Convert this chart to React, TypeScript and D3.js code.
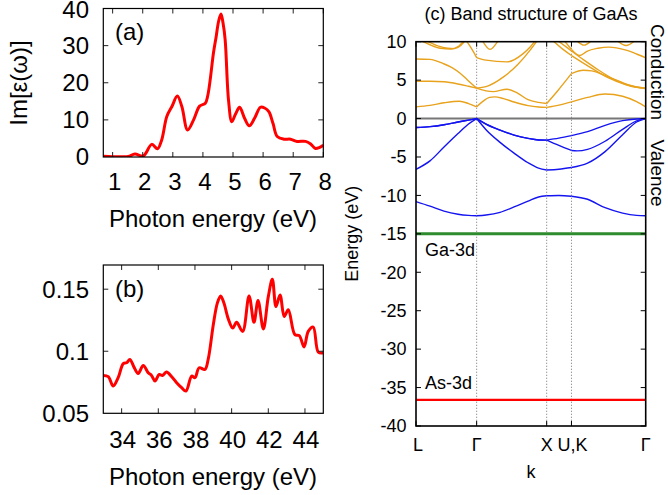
import React from "react";
import * as d3 from "d3";

// ---------- Panel (a): Im[eps] vs photon energy (eV) ----------
const aEnergy = [0.69, 1.0, 1.3, 1.52, 1.74, 2.02, 2.3, 2.49, 2.63, 2.8, 2.97, 3.15, 3.3, 3.49, 3.69, 3.89, 4.08, 4.16, 4.24, 4.35, 4.44, 4.52, 4.6, 4.67, 4.74, 4.85, 4.96, 5.08, 5.22, 5.38, 5.54, 5.72, 5.91, 6.05, 6.19, 6.33, 6.47, 6.69, 6.91, 7.13, 7.41, 7.58, 7.74, 7.88, 8.0];
const aEps = [0.2, 0.1, 0.1, 0.15, 0.8, 0.3, 3.4, 2.2, 4.6, 10.9, 13.6, 16.4, 13.6, 7.3, 10.0, 13.7, 14.5, 16.5, 20.7, 28.0, 32.4, 36.5, 38.5, 36.0, 31.5, 15.4, 9.5, 11.5, 13.4, 10.5, 8.4, 10.5, 13.4, 13.2, 12.2, 9.0, 5.5, 4.8, 4.8, 4.2, 4.2, 3.5, 2.3, 2.6, 3.2];
const aXTicks = [1, 2, 3, 4, 5, 6, 7, 8];
const aYTicks = [0, 10, 20, 30, 40];

// ---------- Panel (b) ----------
const bEnergy = [33.0, 33.27, 33.54, 33.81, 34.09, 34.27, 34.45, 34.68, 34.9, 35.18, 35.45, 35.63, 35.82, 36.05, 36.23, 36.45, 36.73, 37.0, 37.27, 37.51, 37.82, 38.0, 38.23, 38.54, 38.72, 39.0, 39.22, 39.4, 39.58, 39.82, 40.06, 40.27, 40.6, 40.95, 41.22, 41.44, 41.73, 42.0, 42.22, 42.42, 42.64, 42.87, 43.09, 43.45, 43.69, 43.95, 44.18, 44.45, 44.73, 45.0];
const bEps = [0.0805, 0.0795, 0.072, 0.0787, 0.09, 0.0907, 0.0934, 0.087, 0.082, 0.0885, 0.0827, 0.0805, 0.076, 0.0813, 0.0805, 0.0832, 0.0795, 0.0747, 0.0707, 0.068, 0.08, 0.0787, 0.0867, 0.0853, 0.0934, 0.1214, 0.1388, 0.1446, 0.1388, 0.126, 0.1187, 0.1233, 0.116, 0.1446, 0.1233, 0.1409, 0.118, 0.144, 0.158, 0.136, 0.1454, 0.128, 0.1334, 0.1134, 0.1126, 0.1035, 0.116, 0.1195, 0.0992, 0.0987];
const bXTicks = [34, 36, 38, 40, 42, 44];
const bYTicks = [0.05, 0.1, 0.15];
const bYTickLabels = ["0.05", "0.1", "0.15"];

// ---------- Panel (c): band structure ----------
const kPoints = [0, 0.866, 1.866, 2.22, 3.28];
const kLabels = ["L", "Γ", "X", "U,K", "Γ"];
const cYTicks = [10, 5, 0, -5, -10, -15, -20, -25, -30, -35, -40];
const ga3dEnergy = -15.0;
const as3dEnergy = -36.6;

const valence1: [number, number][] = [[0, -1.17], [0.2, -1.05], [0.4, -0.8], [0.6, -0.45], [0.75, -0.2], [0.866, 0], [1.0, -0.72], [1.2, -1.5], [1.4, -2.15], [1.6, -2.58], [1.75, -2.78], [1.866, -2.8], [2.04, -2.55], [2.22, -2.22], [2.45, -1.7], [2.7, -0.88], [2.95, -0.27], [3.15, -0.05], [3.28, 0]];
const valence2: [number, number][] = [[0, -1.17], [0.2, -1.05], [0.4, -0.8], [0.6, -0.45], [0.75, -0.2], [0.866, 0], [1.0, -0.72], [1.2, -1.5], [1.4, -2.15], [1.6, -2.58], [1.75, -2.78], [1.866, -2.8], [2.04, -3.5], [2.22, -4.15], [2.3, -4.2], [2.45, -4.0], [2.7, -2.95], [2.95, -1.4], [3.15, -0.3], [3.28, 0]];
const valence3: [number, number][] = [[0, -6.6], [0.2, -5.5], [0.4, -3.7], [0.6, -1.95], [0.75, -0.7], [0.866, 0], [1.0, -1.45], [1.2, -3.1], [1.4, -4.5], [1.6, -5.75], [1.75, -6.45], [1.866, -6.7], [2.04, -6.6], [2.22, -6.37], [2.45, -5.8], [2.7, -4.3], [2.95, -2.1], [3.15, -0.45], [3.28, 0]];
const valence4: [number, number][] = [[0, -10.8], [0.2, -11.4], [0.4, -12.05], [0.6, -12.45], [0.75, -12.6], [0.866, -12.65], [1.0, -12.55], [1.2, -12.2], [1.4, -11.5], [1.6, -10.75], [1.75, -10.2], [1.866, -10.05], [2.04, -10.02], [2.22, -10.1], [2.45, -10.5], [2.7, -11.6], [2.95, -12.3], [3.15, -12.6], [3.28, -12.65]];
const valenceBands = [valence1, valence2, valence3, valence4];

const cond1: [number, number][] = [[0, 1.52], [0.2, 1.72], [0.4, 2.05], [0.62, 2.25], [0.75, 1.95], [0.866, 1.52], [0.95, 2.2], [1.05, 2.75], [1.12, 2.82], [1.25, 2.6], [1.4, 2.15], [1.6, 1.68], [1.75, 1.5], [1.866, 1.45], [2.04, 1.75], [2.22, 2.17], [2.45, 2.75], [2.7, 3.2], [2.95, 2.9], [3.15, 2.2], [3.28, 1.52]];
const cond2: [number, number][] = [[0, 4.85], [0.2, 4.85], [0.4, 4.78], [0.6, 4.5], [0.75, 4.2], [0.866, 3.95], [1.0, 3.6], [1.1, 3.5], [1.3, 3.82], [1.45, 3.3], [1.6, 2.45], [1.75, 2.1], [1.866, 1.95], [2.03, 3.69], [2.22, 5.85], [2.39, 6.29], [2.51, 6.2], [2.746, 5.42], [2.985, 4.55], [3.15, 4.1], [3.28, 3.9]];
const cond3: [number, number][] = [[0, 7.75], [0.2, 7.7], [0.39, 7.15], [0.52, 6.6], [0.63, 5.9], [0.75, 4.9], [0.866, 3.95], [1.0, 4.15], [1.25, 5.42], [1.45, 7.0], [1.63, 8.9], [1.75, 10.4]];
const cond4: [number, number][] = [[1.96, 10.1], [2.1, 9.0], [2.22, 8.2], [2.5, 6.6], [2.75, 5.3], [3.0, 4.4], [3.15, 4.05], [3.28, 3.95]];
const cond5: [number, number][] = [[2.03, 10.1], [2.22, 8.8], [2.4, 7.6], [2.6, 6.35], [2.85, 5.0], [3.05, 4.3], [3.28, 3.95]];
const cond6: [number, number][] = [[0.72, 10.1], [0.8, 9.0], [0.866, 7.93], [1.0, 7.6], [1.3, 7.37], [1.53, 8.45], [1.63, 9.3], [1.7, 10.1]];
const cond7: [number, number][] = [[0.95, 10.1], [1.057, 9.0], [1.17, 10.1]];
const cond8: [number, number][] = [[0.08, 10.1], [0.2, 9.6], [0.35, 9.15], [0.5, 9.05], [0.6, 9.35], [0.68, 10.1]];
const cond9: [number, number][] = [[0.15, 10.1], [0.3, 9.5], [0.45, 9.15], [0.55, 9.1], [0.64, 9.5], [0.7, 10.1]];
const cond10: [number, number][] = [[2.12, 10.1], [2.22, 9.0], [2.34, 8.2], [2.44, 8.75], [2.6, 9.15], [2.75, 9.3], [3.0, 8.9], [3.15, 8.4], [3.28, 7.9]];
const cond11: [number, number][] = [[2.3, 10.1], [2.4, 9.55], [2.5, 10.1]];
const cond12: [number, number][] = [[2.88, 10.1], [3.0, 9.5], [3.12, 10.1]];
const conductionBands = [cond1, cond2, cond3, cond4, cond5, cond6, cond7, cond8, cond9, cond10, cond11, cond12];

const FONT = "'Liberation Sans', Arial, Helvetica, sans-serif";
const FS_AB = 24;
const FS_C = 18;

function FrameTicks({ x, y, xt, yt, len }: any) {
  const [x0, x1] = x.range();
  const [y0, y1] = y.range();
  const out: any[] = [];
  xt.forEach((t: number, i: number) => {
    const px = x(t);
    out.push(<line key={"xb" + i} x1={px} x2={px} y1={y0} y2={y0 - len} stroke="#222" strokeWidth={1} />);
    out.push(<line key={"xt" + i} x1={px} x2={px} y1={y1} y2={y1 + len} stroke="#222" strokeWidth={1} />);
  });
  yt.forEach((t: number, i: number) => {
    const py = y(t);
    out.push(<line key={"yl" + i} x1={x0} x2={x0 + len} y1={py} y2={py} stroke="#222" strokeWidth={1} />);
    out.push(<line key={"yr" + i} x1={x1} x2={x1 - len} y1={py} y2={py} stroke="#222" strokeWidth={1} />);
  });
  return <g>{out}</g>;
}

function PanelA() {
  const x = d3.scaleLinear().domain([0.69, 8]).range([103.3, 323.3]);
  const y = d3.scaleLinear().domain([0, 40]).range([157, 8.5]);
  const line = d3.line<number>().x((_, i) => x(aEnergy[i])).y((d) => y(d)).curve(d3.curveCatmullRom.alpha(0.5));
  return (
    <g fontFamily={FONT}>
      <defs>
        <clipPath id="clipA"><rect x={103.3} y={8.5} width={220} height={148.5} /></clipPath>
      </defs>
      <path d={line(aEps) || ""} fill="none" stroke="#ff0000" strokeWidth={3} clipPath="url(#clipA)" />
      <FrameTicks x={x} y={y} xt={aXTicks} yt={aYTicks.slice(1, -1)} len={5} />
      <rect x={103.3} y={8.5} width={220} height={148.5} fill="none" stroke="#000" strokeWidth={1.2} />
      {aXTicks.map((t) => (
        <text key={t} x={x(t) + 2} y={182} dy="0.35em" textAnchor="middle" fontSize={FS_AB}>{t}</text>
      ))}
      {aYTicks.map((t) => (
        <text key={t} x={89} y={Math.max(y(t), 9.5)} dy="0.35em" textAnchor="end" fontSize={FS_AB}>{t}</text>
      ))}
      <text x={115} y={32} dy="0.35em" fontSize={FS_AB}>(a)</text>
      <text x={213} y={219} dy="0.35em" textAnchor="middle" fontSize={FS_AB}>Photon energy (eV)</text>
      <text transform="translate(19,83) rotate(-90)" dy="0.35em" textAnchor="middle" fontSize={FS_AB}>Im[ε(ω)]</text>
    </g>
  );
}

function PanelB() {
  const x = d3.scaleLinear().domain([33, 45]).range([103.3, 323.3]);
  const y = d3.scaleLinear().domain([0.05, 0.1695]).range([413.3, 265]);
  const line = d3.line<number>().x((_, i) => x(bEnergy[i])).y((d) => y(d)).curve(d3.curveCatmullRom.alpha(0.5));
  return (
    <g fontFamily={FONT}>
      <defs>
        <clipPath id="clipB"><rect x={103.3} y={265} width={220} height={148.3} /></clipPath>
      </defs>
      <path d={line(bEps) || ""} fill="none" stroke="#ff0000" strokeWidth={3} clipPath="url(#clipB)" />
      <FrameTicks x={x} y={y} xt={bXTicks} yt={bYTicks.slice(1)} len={5} />
      <rect x={103.3} y={265} width={220} height={148.3} fill="none" stroke="#000" strokeWidth={1.2} />
      {bXTicks.map((t) => (
        <text key={t} x={x(t) + 1} y={440} dy="0.35em" textAnchor="middle" fontSize={FS_AB}>{t}</text>
      ))}
      {bYTicks.map((t, i) => (
        <text key={t} x={89} y={y(t)} dy="0.35em" textAnchor="end" fontSize={FS_AB}>{bYTickLabels[i]}</text>
      ))}
      <text x={115} y={289} dy="0.35em" fontSize={FS_AB}>(b)</text>
      <text x={213} y={477} dy="0.35em" textAnchor="middle" fontSize={FS_AB}>Photon energy (eV)</text>
    </g>
  );
}

function PanelC() {
  const x = d3.scaleLinear().domain([0, 3.28]).range([416, 645.7]);
  const y = d3.scaleLinear().domain([-40, 10]).range([426, 41.7]);
  const line = d3.line<[number, number]>().x((d) => x(d[0])).y((d) => y(d[1])).curve(d3.curveMonotoneX);
  const segs = (band: [number, number][]) => {
    const res: string[] = [];
    for (let i = 0; i < kPoints.length - 1; i++) {
      const k0 = kPoints[i] - 1e-6, k1 = kPoints[i + 1] + 1e-6;
      const pts = band.filter((p) => p[0] >= k0 && p[0] <= k1);
      if (pts.length >= 2) res.push(line(pts) || "");
    }
    return res;
  };
  const [x0, x1] = x.range();
  const [yb, yt] = y.range();
  return (
    <g fontFamily={FONT}>
      <defs>
        <clipPath id="clipC"><rect x={x0} y={yt} width={x1 - x0} height={yb - yt} /></clipPath>
      </defs>
      <text x={531} y={13.5} dy="0.35em" textAnchor="middle" fontSize={FS_C}>(c) Band structure of GaAs</text>
      {kPoints.slice(1, -1).map((k, i) => (
        <line key={i} x1={x(k)} x2={x(k)} y1={yt} y2={yb} stroke="#888" strokeWidth={1} strokeDasharray="1.2,1.8" />
      ))}
      <line x1={x0} x2={x1} y1={y(0)} y2={y(0)} stroke="#777" strokeWidth={2} />
      <g clipPath="url(#clipC)" fill="none">
        {conductionBands.map((b, i) => segs(b).map((d, j) => (
          <path key={"c" + i + "_" + j} d={d} stroke="#e8a21c" strokeWidth={1.4} />
        )))}
        {valenceBands.map((b, i) => segs(b).map((d, j) => (
          <path key={"v" + i + "_" + j} d={d} stroke="#1414f0" strokeWidth={1.4} />
        )))}
      </g>
      <line x1={x0} x2={x1} y1={y(ga3dEnergy)} y2={y(ga3dEnergy)} stroke="#2e8b2e" strokeWidth={3} />
      <line x1={x0} x2={x1} y1={y(as3dEnergy)} y2={y(as3dEnergy)} stroke="#ff0000" strokeWidth={2.2} />
      {cYTicks.map((t, i) => (
        <g key={i}>
          <line x1={x0} x2={x0 + 5} y1={y(t)} y2={y(t)} stroke="#000" strokeWidth={1} />
          <line x1={x1} x2={x1 - 5} y1={y(t)} y2={y(t)} stroke="#000" strokeWidth={1} />
          <text x={406.5} y={y(t)} dy="0.35em" textAnchor="end" fontSize={FS_C}>{t}</text>
        </g>
      ))}
      {kPoints.map((k, i) => (
        <g key={i}>
          <line x1={x(k)} x2={x(k)} y1={yb} y2={yb - 5} stroke="#000" strokeWidth={1} />
          <line x1={x(k)} x2={x(k)} y1={yt} y2={yt + 5} stroke="#000" strokeWidth={1} />
          <text x={x(k) + (i === 3 ? 1 : i === 0 ? 2 : 0)} y={445} dy="0.35em" textAnchor="middle" fontSize={FS_C}>{kLabels[i]}</text>
        </g>
      ))}
      <rect x={x0} y={yt} width={x1 - x0} height={yb - yt} fill="none" stroke="#000" strokeWidth={1.6} />
      <text x={425} y={250} dy="0.35em" fontSize={FS_C}>Ga-3d</text>
      <text x={425} y={383} dy="0.35em" fontSize={FS_C}>As-3d</text>
      <text x={531} y={472} dy="0.35em" textAnchor="middle" fontSize={FS_C}>k</text>
      <text transform={`translate(352,${(yt + yb) / 2}) rotate(-90)`} dy="0.35em" textAnchor="middle" fontSize={FS_C}>Energy (eV)</text>
      <text transform="translate(658,72) rotate(90)" dy="0.35em" textAnchor="middle" fontSize={19}>Conduction</text>
      <text transform="translate(658,173) rotate(90)" dy="0.35em" textAnchor="middle" fontSize={19}>Valence</text>
    </g>
  );
}

export default function App() {
  return (
    <svg width={668} height={495} style={{ position: "absolute", left: 0, top: 0, background: "#fff" }}>
      <rect width={668} height={495} fill="#fff" />
      <PanelA />
      <PanelB />
      <PanelC />
    </svg>
  );
}
